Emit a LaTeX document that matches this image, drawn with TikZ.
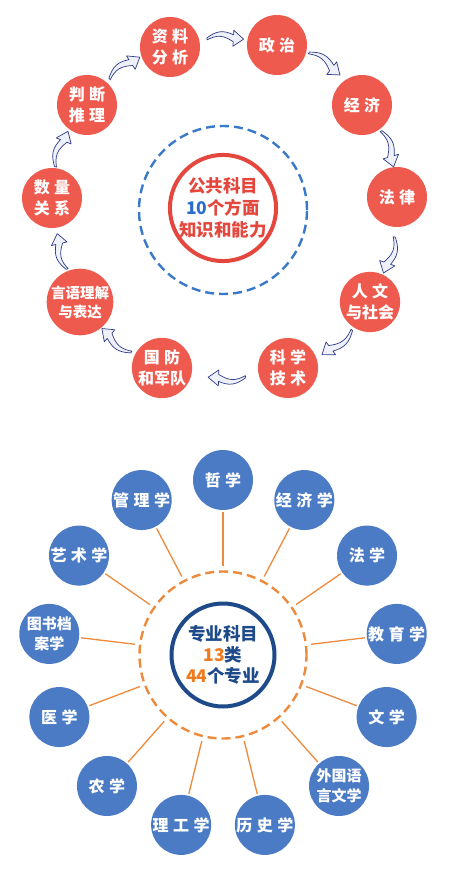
\documentclass[tikz,border=0pt]{standalone}
\usepackage{fontspec}
\newfontfamily\cjk{Noto Sans CJK SC}
\newfontfamily\cjksp{Noto Sans CJK SC}[LetterSpace=28]
\usetikzlibrary{calc}
\definecolor{nodered}{HTML}{EF5A4E}
\definecolor{ctred}{HTML}{E4473D}
\definecolor{tblue}{HTML}{2D6CCF}
\definecolor{ringblue}{HTML}{3A78C9}
\definecolor{nodeblue}{HTML}{4A7BC4}
\definecolor{navy}{HTML}{1E4A8A}
\definecolor{orng}{HTML}{EE8A3C}
\definecolor{orngtxt}{HTML}{F07B1E}
\definecolor{arrline}{HTML}{2E3A87}
\definecolor{arrfill}{HTML}{EEF1FA}
\newcommand\cwarr[2]{%
  \pgfmathsetmacro\arA{#1-6.5}%
  \pgfmathsetmacro\arB{#1+2.5}%
  \pgfmathsetmacro\arC{#1+6}%
  \pgfmathsetmacro\hIn{#2-8}%
  \pgfmathsetmacro\hOut{#2+8}%
  \draw[arrsty]
    plot[smooth, variable=\t, domain=0:1, samples=9]
      ({\arA+\t*(\arB-\arA)}:{#2+4*sin(180*\t)-1-2.5*\t})
    -- (\arB:\hIn) -- (\arC:#2) -- (\arB:\hOut)
    -- plot[smooth, variable=\t, domain=1:0, samples=9]
      ({\arA+\t*(\arB-\arA)}:{#2+4*sin(180*\t)+1+2.5*\t})
    -- cycle;}
\begin{document}
\begin{tikzpicture}[x=1pt,y=-1pt,
  rnode/.style={circle, fill=nodered, minimum size=60pt, inner sep=0pt, outer sep=0pt,
    text=white, align=center, font=\cjksp\bfseries\fontsize{16}{21}\selectfont},
  bnode/.style={circle, fill=nodeblue, minimum size=60pt, inner sep=0pt, outer sep=0pt,
    text=white, align=center, font=\cjksp\bfseries\fontsize{16}{21}\selectfont},
  nosp/.style={font=\cjk\bfseries\fontsize{15}{20}\selectfont},
  arrsty/.style={draw=arrline, fill=arrfill, line width=0.7pt, line join=round},
  oline/.style={draw=orng, line width=1.3pt, shorten <=2pt, shorten >=4pt}]
\useasboundingbox (0,0) rectangle (454,875);
\fill[white] (0,0) rectangle (454,875);

% ---------- top part ----------
\node[circle, draw=ringblue, line width=2.4pt, dash pattern=on 9pt off 5pt,
  minimum size=168pt, inner sep=0pt] (d1) at (223,210) {};
\node[circle, draw=ctred, line width=4pt, minimum size=106pt, inner sep=0pt,
  align=center, text=ctred, font=\cjk\bfseries\fontsize{17.5}{22}\selectfont]
  (c1) at (223,208) {公共科目\\{\color{tblue}10}个方面\\知识和能力};

\node[rnode] (zl) at (170,47) {资料\\分析};
\node[rnode] (zz) at (277,45) {政治};
\node[rnode] (jj) at (362,105) {经济};
\node[rnode] (fl) at (397,197) {法律};
\node[rnode] (rw) at (370,302) {人文\\\cjk\bfseries 与社会};
\node[rnode] (kx) at (288,368) {科学\\技术};
\node[rnode] (gf) at (162,368) {国防\\\cjk\bfseries 和军队};
\node[rnode, font=\cjk\bfseries\fontsize{14.5}{19}\selectfont] (yy) at (80,302) {言语理解\\与表达};
\node[rnode] (sl) at (52,198) {数量\\关系};
\node[rnode] (pd) at (87,105) {判断\\推理};

\begin{scope}[shift={(224,206)}]
  \cwarr{-89.3}{168}
  \cwarr{-54.5}{175}
  \cwarr{-19}{174}
  \cwarr{16.8}{173}
  \cwarr{50.6}{178}
  \cwarr{89.3}{172}
  \cwarr{128.9}{173}
  \cwarr{164.6}{169}
  \cwarr{199.6}{173}
  \cwarr{234.5}{171}
\end{scope}

% ---------- bottom part ----------
\node[circle, draw=orng, line width=2.4pt, dash pattern=on 9pt off 5pt,
  minimum size=167pt, inner sep=0pt] (d2) at (223,655) {};
\node[circle, draw=navy, line width=4pt, minimum size=103pt, inner sep=0pt,
  align=center, text=navy, font=\cjk\bfseries\fontsize{17.5}{21}\selectfont]
  (c2) at (223,655) {专业科目\\{\color{orngtxt}13}类\\{\color{orngtxt}44}个专业};

\foreach \t/\st [count=\k from 0] in {哲学/, 经济学/, 法学/, 教育学/, 文学/,
  {外国语\\言文学}/nosp, 历史学/, 理工学/, 农学/, 医学/,
  {图书档\\案学}/nosp, 艺术学/, 管理学/} {
  \node[bnode, \st] (b\k) at ($(c2)+({-90+\k*360/13}:175)$) {\t};
}
\foreach \k in {0,...,12} {
  \draw[oline] (b\k) -- (d2);
}
\end{tikzpicture}
\end{document}
